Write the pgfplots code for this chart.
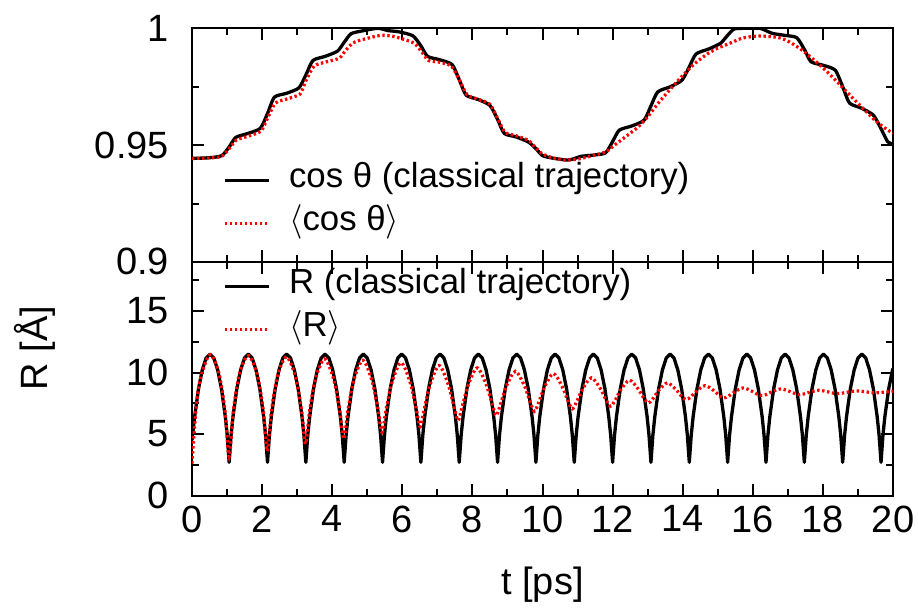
\documentclass[border=0pt]{standalone}
\usepackage{fontspec}
\setmainfont{Liberation Sans}
\usepackage{pgfplots}
\pgfplotsset{compat=1.18}
\usetikzlibrary{calc}
\definecolor{myred}{RGB}{255,0,0}
\pgfplotsset{
  panel/.style={
    scale only axis, width=350.5pt, height=116.8pt,
    xmin=0, xmax=20,
    xtick={0,2,...,20}, minor xtick={1,3,...,19},
    tick align=inside,
    major tick length=5.8pt, minor tick length=3.3pt,
    axis line style={line width=1pt},
    tick style={line width=1pt, black},
    /pgf/number format/assume math mode=true,
    yticklabel style={xshift=-8pt},
    xticklabel style={yshift=-1.5pt},
    legend cell align=left,
    legend image code/.code={\draw[##1] (0pt,0pt) -- (22pt,0pt);},
    legend style={draw=none, fill=none, inner sep=0pt, outer sep=0pt,
      column sep=9.4pt, row sep=0pt,
      font=\fontsize{17.4}{20}\selectfont,
      nodes={inner sep=0pt, text height=14.5pt, text depth=7pt},
      anchor=west},
  },
  cls/.style={black, line width=1.65pt, line join=round},
  qm/.style={myred, line width=1.6pt, dash pattern=on 1.2pt off 1.3pt},
}
\begin{document}
\begin{tikzpicture}[font=\fontsize{19}{22}\selectfont]
\begin{axis}[panel, name=top,
  ymin=0.9, ymax=1, ytick={0.9,0.95,1}, minor ytick={0.925,0.975},
  xticklabels={},
  legend style={at={(rel axis cs:0.0442,0.257)}}]
\addplot[cls, smooth, tension=0.4] coordinates {
(0,0.9443) (0.5,0.9446) (0.85,0.9455) (1.06,0.9492) (1.25,0.9533) (1.6,0.9550) (1.95,0.9572)
(2.154,0.9635) (2.35,0.9705) (2.7,0.9722) (3.05,0.9745) (3.248,0.9800) (3.45,0.9862)
(3.8,0.9880) (4.15,0.9902) (4.342,0.9940) (4.54,0.9977) (4.9,0.9990) (5.3,1.0)
(5.6,0.9990) (5.9,0.9985) (6.3,0.9968) (6.53,0.9925) (6.72,0.9880) (7.05,0.9866)
(7.42,0.9845) (7.624,0.9780) (7.82,0.9714) (8.15,0.9696) (8.5,0.9670) (8.718,0.9610)
(8.91,0.9550) (9.25,0.9535) (9.6,0.9513) (9.812,0.9485) (10.0,0.9455) (10.3,0.9444)
(10.7,0.9436) (10.906,0.9442) (11.1,0.9452) (11.5,0.9458) (11.8,0.9467) (12.0,0.9515)
(12.19,0.9564) (12.55,0.9582) (12.9,0.9607) (13.094,0.9668) (13.29,0.9728) (13.65,0.9750)
(13.98,0.9778) (14.188,0.9835) (14.38,0.9890) (14.75,0.9912) (15.08,0.9936) (15.282,0.9970)
(15.47,0.9997) (15.8,1.0) (16.2,1.0) (16.376,0.9990) (16.56,0.9978) (16.9,0.9970)
(17.25,0.9960) (17.47,0.9910) (17.66,0.9857) (18.0,0.9842) (18.35,0.9821) (18.564,0.9750)
(18.76,0.9680) (19.1,0.9658) (19.44,0.9628) (19.658,0.9570) (19.85,0.9514) (20.0,0.9505)
};
\addlegendentry{cos θ (classical trajectory)}
\addplot[qm, smooth, tension=0.4] coordinates {
(0,0.9443) (0.5,0.9445) (0.85,0.9452) (1.06,0.9485) (1.27,0.9522) (1.6,0.9538) (1.97,0.9560)
(2.154,0.9615) (2.38,0.9680) (2.7,0.9697) (3.08,0.9718) (3.248,0.9775) (3.48,0.9838)
(3.8,0.9855) (4.2,0.9872) (4.38,0.9905) (4.6,0.9938) (4.95,0.9955) (5.4,0.9970)
(5.75,0.9965) (6.1,0.9950) (6.35,0.9935) (6.55,0.9900) (6.75,0.9862) (7.05,0.9855)
(7.4,0.9838) (7.624,0.9780) (7.85,0.9715) (8.15,0.9697) (8.5,0.9675) (8.718,0.9615)
(8.93,0.9555) (9.25,0.9540) (9.6,0.9520) (9.8,0.9490) (10.0,0.9462) (10.3,0.9445)
(10.65,0.9436) (11.0,0.9440) (11.3,0.9450) (11.8,0.9471) (12.1,0.9505) (12.45,0.9545)
(12.73,0.9578) (13.0,0.9621) (13.3,0.9679) (13.65,0.9740) (13.97,0.9793) (14.35,0.9850)
(14.73,0.9893) (15.0,0.9915) (15.3,0.9933) (15.68,0.9957) (16.0,0.9965) (16.25,0.9967)
(16.55,0.9964) (16.82,0.9957) (17.1,0.9937) (17.4,0.9907) (17.68,0.9873) (17.96,0.9836)
(18.25,0.9795) (18.54,0.9750) (18.82,0.9706) (19.1,0.9664) (19.48,0.9607) (19.75,0.9575)
(20.0,0.9550)
};
\addlegendentry{$\langle$cos θ$\rangle$}
\end{axis}
\begin{axis}[panel, name=bot, at={(top.south west)}, anchor=north west,
  ymin=0, ymax=19, ytick={0,5,10,15}, minor ytick={2.5,7.5,12.5,17.5},
  xlabel={t [ps]}, ylabel={R [Å]},
  xlabel style={at={(rel axis cs:0.5,0)}, anchor=base, yshift=-49.5pt},
  ylabel style={at={(rel axis cs:-0.2068,0.632)}, anchor=base},
  legend style={at={(rel axis cs:0.0442,0.804)}}]
\addplot[cls] coordinates {
(0,4.5) (0.075,6.4) (0.185,8.68) (0.294,10.22) (0.404,11.19) (0.513,11.5) (0.622,11.19) (0.732,10.22) (0.841,8.68) (0.951,6.4) (1.005,4.9)
(1.060,2.7) (1.115,4.9) (1.169,6.4) (1.279,8.68) (1.388,10.22) (1.498,11.19) (1.607,11.5) (1.716,11.19) (1.826,10.22) (1.935,8.68) (2.045,6.4) (2.099,4.9)
(2.154,2.7) (2.209,4.9) (2.263,6.4) (2.373,8.68) (2.482,10.22) (2.592,11.19) (2.701,11.5) (2.810,11.19) (2.920,10.22) (3.029,8.68) (3.139,6.4) (3.193,4.9)
(3.248,2.7) (3.303,4.9) (3.357,6.4) (3.467,8.68) (3.576,10.22) (3.686,11.19) (3.795,11.5) (3.904,11.19) (4.014,10.22) (4.123,8.68) (4.233,6.4) (4.287,4.9)
(4.342,2.7) (4.397,4.9) (4.451,6.4) (4.561,8.68) (4.670,10.22) (4.780,11.19) (4.889,11.5) (4.998,11.19) (5.108,10.22) (5.217,8.68) (5.327,6.4) (5.381,4.9)
(5.436,2.7) (5.491,4.9) (5.545,6.4) (5.655,8.68) (5.764,10.22) (5.874,11.19) (5.983,11.5) (6.092,11.19) (6.202,10.22) (6.311,8.68) (6.421,6.4) (6.475,4.9)
(6.530,2.7) (6.585,4.9) (6.639,6.4) (6.749,8.68) (6.858,10.22) (6.968,11.19) (7.077,11.5) (7.186,11.19) (7.296,10.22) (7.405,8.68) (7.515,6.4) (7.569,4.9)
(7.624,2.7) (7.679,4.9) (7.733,6.4) (7.843,8.68) (7.952,10.22) (8.062,11.19) (8.171,11.5) (8.280,11.19) (8.390,10.22) (8.499,8.68) (8.609,6.4) (8.663,4.9)
(8.718,2.7) (8.773,4.9) (8.827,6.4) (8.937,8.68) (9.046,10.22) (9.156,11.19) (9.265,11.5) (9.374,11.19) (9.484,10.22) (9.593,8.68) (9.703,6.4) (9.757,4.9)
(9.812,2.7) (9.867,4.9) (9.921,6.4) (10.031,8.68) (10.140,10.22) (10.250,11.19) (10.359,11.5) (10.468,11.19) (10.578,10.22) (10.687,8.68) (10.797,6.4) (10.851,4.9)
(10.906,2.7) (10.961,4.9) (11.015,6.4) (11.125,8.68) (11.234,10.22) (11.344,11.19) (11.453,11.5) (11.562,11.19) (11.672,10.22) (11.781,8.68) (11.891,6.4) (11.945,4.9)
(12.000,2.7) (12.055,4.9) (12.109,6.4) (12.219,8.68) (12.328,10.22) (12.438,11.19) (12.547,11.5) (12.656,11.19) (12.766,10.22) (12.875,8.68) (12.985,6.4) (13.039,4.9)
(13.094,2.7) (13.149,4.9) (13.203,6.4) (13.313,8.68) (13.422,10.22) (13.532,11.19) (13.641,11.5) (13.750,11.19) (13.860,10.22) (13.969,8.68) (14.079,6.4) (14.133,4.9)
(14.188,2.7) (14.243,4.9) (14.297,6.4) (14.407,8.68) (14.516,10.22) (14.626,11.19) (14.735,11.5) (14.844,11.19) (14.954,10.22) (15.063,8.68) (15.173,6.4) (15.227,4.9)
(15.282,2.7) (15.337,4.9) (15.391,6.4) (15.501,8.68) (15.610,10.22) (15.720,11.19) (15.829,11.5) (15.938,11.19) (16.048,10.22) (16.157,8.68) (16.267,6.4) (16.321,4.9)
(16.376,2.7) (16.431,4.9) (16.485,6.4) (16.595,8.68) (16.704,10.22) (16.814,11.19) (16.923,11.5) (17.032,11.19) (17.142,10.22) (17.251,8.68) (17.361,6.4) (17.415,4.9)
(17.470,2.7) (17.525,4.9) (17.579,6.4) (17.689,8.68) (17.798,10.22) (17.908,11.19) (18.017,11.5) (18.126,11.19) (18.236,10.22) (18.345,8.68) (18.455,6.4) (18.509,4.9)
(18.564,2.7) (18.619,4.9) (18.673,6.4) (18.783,8.68) (18.892,10.22) (19.002,11.19) (19.111,11.5) (19.220,11.19) (19.330,10.22) (19.439,8.68) (19.549,6.4) (19.603,4.9)
(19.658,2.7) (19.713,4.9) (19.767,6.4) (19.877,8.68) (19.986,10.22) (20.0,10.3)
};
\addlegendentry{R (classical trajectory)}
\addplot[qm, smooth, tension=0.5] coordinates {
(0,2.6) (0.12,7.2) (0.25,9.6) (0.51,11.45)
(0.767,9.96) (0.941,6.89) (1.06,3.15) (1.179,6.85) (1.353,9.90) (1.605,11.38)
(1.857,9.88) (2.031,6.97) (2.15,3.6) (2.269,6.92) (2.443,9.79) (2.695,11.27)
(2.947,9.72) (3.121,7.03) (3.24,4.2) (3.359,6.96) (3.533,9.59) (3.785,11.1)
(4.037,9.51) (4.211,6.98) (4.33,4.6) (4.449,6.94) (4.623,9.44) (4.875,11.0)
(5.127,9.42) (5.301,7.10) (5.42,5.15) (5.539,7.03) (5.713,9.27) (5.965,10.8)
(6.217,9.26) (6.391,7.15) (6.51,5.6) (6.629,7.09) (6.803,9.10) (7.05,10.57)
(7.297,9.13) (7.471,7.29) (7.59,6.1) (7.709,7.24) (7.883,9.0) (8.135,10.38)
(8.387,9.08) (8.561,7.47) (8.68,6.5) (8.799,7.40) (8.973,8.90) (9.225,10.1)
(9.477,8.97) (9.651,7.60) (9.77,6.85) (9.889,7.56) (10.063,8.85) (10.31,9.92)
(10.557,8.89) (10.731,7.67) (10.85,7.05) (10.969,7.59) (11.143,8.66) (11.395,9.57)
(11.647,8.71) (11.821,7.72) (11.94,7.26) (12.059,7.68) (12.233,8.59) (12.48,9.38)
(12.727,8.67) (12.901,7.87) (13.02,7.53) (13.139,7.83) (13.313,8.53) (13.56,9.16)
(13.807,8.62) (13.981,8.02) (14.10,7.8) (14.219,7.99) (14.393,8.49) (14.64,8.94)
(14.887,8.53) (15.061,8.09) (15.18,7.94) (15.299,8.06) (15.473,8.42) (15.72,8.75)
(15.967,8.49) (16.141,8.22) (16.26,8.13) (16.379,8.21) (16.553,8.45) (16.80,8.67)
(17.047,8.47) (17.221,8.27) (17.34,8.21) (17.459,8.26) (17.633,8.41) (17.88,8.56)
(18.127,8.44) (18.301,8.32) (18.42,8.29) (18.539,8.32) (18.713,8.41) (18.96,8.51)
(19.207,8.44) (19.381,8.37) (19.50,8.35) (19.619,8.37) (19.793,8.42) (20.0,8.48)
};
\addlegendentry{$\langle$R$\rangle$}
\end{axis}
\pgfresetboundingbox
\path[use as bounding box] ($(top.north west)+(-96pt,14.15pt)$) rectangle ($(bot.south east)+(12.5pt,-57pt)$);
\end{tikzpicture}
\end{document}
